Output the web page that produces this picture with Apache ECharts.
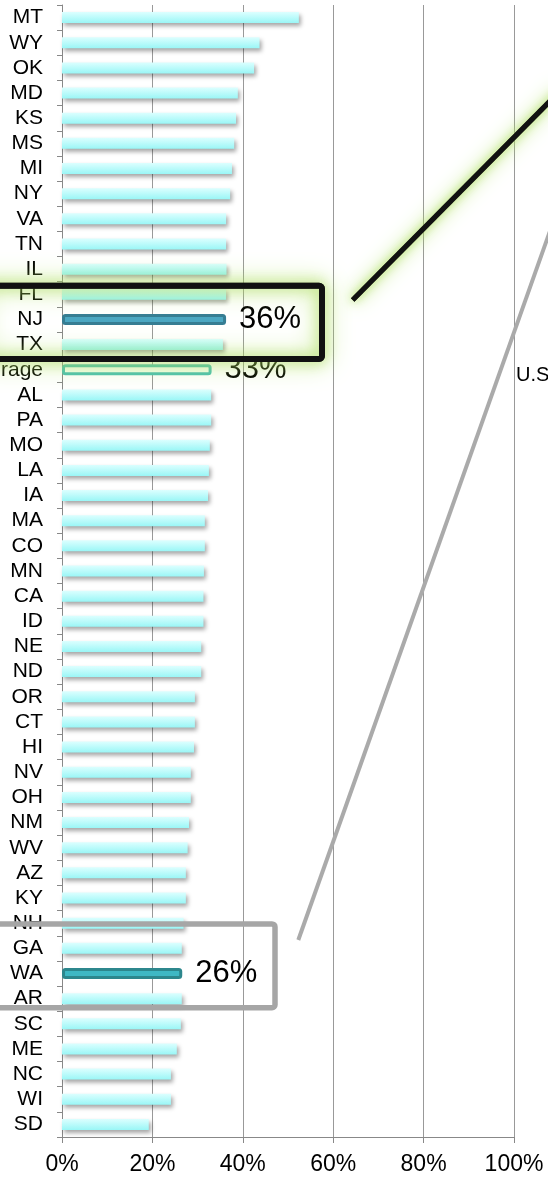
<!DOCTYPE html>
<html>
<head>
<meta charset="utf-8">
<script src="https://cdn.jsdelivr.net/npm/echarts@6/dist/echarts.min.js"></script>
<style>
    html, body { margin: 0; padding: 0; background: #fff; }
    #main { width: 548px; height: 1177px; }
</style>
</head>
<body>
<div id="main"></div>
<script>
// states top -> bottom
var states = ['MT', 'WY', 'OK', 'MD', 'KS', 'MS', 'MI', 'NY', 'VA', 'TN', 'IL', 'FL', 'NJ', 'TX',
    'U.S. Average', 'AL', 'PA', 'MO', 'LA', 'IA', 'MA', 'CO', 'MN', 'CA', 'ID', 'NE', 'ND', 'OR',
    'CT', 'HI', 'NV', 'OH', 'NM', 'WV', 'AZ', 'KY', 'NH', 'GA', 'WA', 'AR', 'SC', 'ME', 'NC', 'WI', 'SD'];
// share in percent
var shares = [52.4, 43.7, 42.5, 38.9, 38.5, 38.1, 37.6, 37.2, 36.3, 36.3, 36.4, 36.3, 36.3, 35.6,
    33.1, 33.0, 33.0, 32.7, 32.5, 32.3, 31.6, 31.6, 31.4, 31.3, 31.3, 30.8, 30.8, 29.4,
    29.4, 29.2, 28.5, 28.5, 28.1, 27.8, 27.4, 27.4, 26.9, 26.5, 26.6, 26.5, 26.3, 25.4, 24.1, 24.1, 19.2];
var xTicks = [0, 20, 40, 60, 80, 100];
var xTickLabels = ['0%', '20%', '40%', '60%', '80%', '100%'];
var highlighted = ['NJ', 'WA'];
var averageName = 'U.S. Average';
var blackBoxRows = ['FL', 'TX'];
var grayBoxRows = ['NH', 'AR'];

var fontFam = '"Liberation Sans", Arial, sans-serif';
var glow = 'rgba(170,220,90,1)';
var hlColors = {
    NJ: { fill: '#4ba7c2', border: '#367d93' },
    WA: { fill: '#3fb8c4', border: '#2d878d' }
};
var bigLabel = {
    show: true,
    position: 'right',
    distance: 13,
    fontSize: 31,
    color: '#000',
    fontFamily: fontFam,
    formatter: function (p) { return Math.floor(p.value) + '%'; }
};

var barData = shares.map(function (v, i) {
    var name = states[i];
    var item = { value: v };
    if (highlighted.indexOf(name) >= 0) {
        item.itemStyle = {
            color: hlColors[name].fill,
            borderColor: hlColors[name].border,
            borderWidth: 3,
            borderRadius: 2,
            shadowBlur: 0,
            shadowOffsetX: 0,
            shadowOffsetY: 0
        };
        item.label = bigLabel;
    } else if (name === averageName) {
        item.itemStyle = {
            color: '#f6fff0',
            borderColor: '#4bbfb2',
            borderWidth: 3,
            borderRadius: 2,
            shadowBlur: 0,
            shadowOffsetX: 0,
            shadowOffsetY: 0
        };
        item.label = bigLabel;
    }
    return item;
});

var myChart = echarts.init(document.getElementById('main'));
var option = {
    animation: false,
    textStyle: { fontFamily: fontFam },
    grid: { left: 62, right: 34, top: 5, bottom: 40, containLabel: false, outerBoundsMode: 'none' },
    xAxis: {
        type: 'value',
        min: xTicks[0],
        max: xTicks[xTicks.length - 1],
        interval: xTicks[1] - xTicks[0],
        axisLine: { show: true, lineStyle: { color: '#888', width: 1 } },
        axisTick: { show: true, length: 6, lineStyle: { color: '#888' } },
        splitLine: { show: true, lineStyle: { color: '#999', width: 1 } },
        axisLabel: {
            fontSize: 23,
            color: '#000',
            margin: 16,
            formatter: function (v) { return xTickLabels[xTicks.indexOf(v)]; }
        }
    },
    yAxis: {
        type: 'category',
        inverse: true,
        data: states,
        axisLine: { show: true, lineStyle: { color: '#888', width: 1 } },
        axisTick: { show: true, length: 5, lineStyle: { color: '#888' } },
        splitLine: { show: false },
        axisLabel: { fontSize: 21, color: '#000', margin: 19, interval: 0 }
    },
    series: [{
        type: 'bar',
        barWidth: 11,
        data: barData,
        itemStyle: {
            color: new echarts.graphic.LinearGradient(0, 0, 0, 1, [
                { offset: 0, color: '#dcffff' },
                { offset: 1, color: '#9af6f6' }
            ]),
            shadowColor: 'rgba(0,0,0,0.35)',
            shadowBlur: 4,
            shadowOffsetX: 2,
            shadowOffsetY: 3
        }
    }]
};
myChart.setOption(option);

// callout boxes placed on the rows they enclose
function rowY(name) {
    return myChart.convertToPixel({ yAxisIndex: 0 }, states.indexOf(name));
}
var bTop = rowY(blackBoxRows[0]) - 8.5;
var bBot = rowY(blackBoxRows[1]) + 14.5;
var gTop = rowY(grayBoxRows[0]) + 0.7;
var gBot = rowY(grayBoxRows[1]) + 9;

function glowRect(blur) {
    return {
        type: 'rect', z: 100,
        shape: { x: -20, y: bTop, width: 342, height: bBot - bTop, r: 3 },
        style: { fill: 'none', stroke: '#111', lineWidth: 6, shadowBlur: blur, shadowColor: glow }
    };
}
function glowLine(blur) {
    return {
        type: 'line', z: 100,
        shape: { x1: 352.7, y1: 300, x2: 560, y2: 91 },
        style: { stroke: '#111', lineWidth: 5, shadowBlur: blur, shadowColor: glow }
    };
}

myChart.setOption({
    graphic: [
        glowRect(26), glowRect(14),
        glowLine(20), glowLine(10),
        {
            type: 'rect', z: 100,
            shape: { x: -20, y: gTop, width: 295, height: gBot - gTop, r: 3 },
            style: { fill: 'none', stroke: '#a6a6a6', lineWidth: 5.5 }
        },
        {
            type: 'line', z: 100,
            shape: { x1: 298.3, y1: 940, x2: 561, y2: 200 },
            style: { stroke: '#aaa', lineWidth: 4 }
        },
        {
            type: 'text', z: 100,
            x: 516, y: 375,
            style: {
                text: 'U.S. Average', fontSize: 20, fill: '#000',
                fontFamily: fontFam, verticalAlign: 'middle', align: 'left'
            }
        }
    ]
});

window.addEventListener('resize', function () {
    myChart.resize();
});
</script>
</body>
</html>
